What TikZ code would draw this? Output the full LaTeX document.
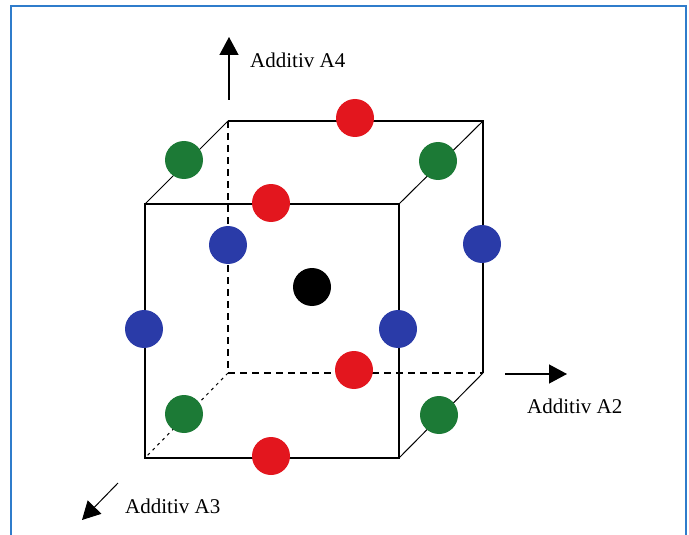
\documentclass[tikz,border=0pt]{standalone}
\usepackage{fontspec}
\setmainfont{Liberation Serif}
\usetikzlibrary{arrows.meta}
\definecolor{framecol}{HTML}{2F7CCB}
\definecolor{ballred}{HTML}{E3161E}
\definecolor{ballgreen}{HTML}{1C7A36}
\definecolor{ballblue}{HTML}{2A3BA8}
\begin{document}
\begin{tikzpicture}[x=1pt,y=-1pt,
  frame/.style={line width=2pt,framecol},
  edge/.style={line width=1.3pt,black},
  slant/.style={line width=1pt,black},
  hidden/.style={edge,dash pattern=on 7pt off 5pt},
  hiddenslant/.style={line width=1pt,black,dash pattern=on 3pt off 4pt},
  axis/.style={line width=1.3pt,-{Triangle[length=18pt,width=19pt]}},
  lbl/.style={font=\fontsize{21}{24}\selectfont,anchor=base west,inner sep=0pt},
  ball/.style={circle,minimum size=38pt,inner sep=0pt}]
\useasboundingbox (0,0) rectangle (689,535);
% outer frame, open at the bottom
\draw[frame] (11,536) -- (11,6) -- (686,6) -- (686,536);

% cube corners: front face f*, back face b*
\coordinate (f1) at (145,204);
\coordinate (f2) at (399,204);
\coordinate (f3) at (399,458);
\coordinate (f4) at (145,458);
\coordinate (b1) at (228,121);
\coordinate (b2) at (483,121);
\coordinate (b3) at (483,373);
\coordinate (b4) at (228,373);

% hidden edges
\draw[hidden] (b1) -- (b4);
\draw[hidden] (b4) -- (b3);
\draw[hiddenslant] (b4) -- (f4);
% visible edges
\draw[edge] (f1) -- (f2) -- (f3) -- (f4) -- cycle;
\draw[edge] (b1) -- (b2) -- (b3);
\draw[slant] (f1) -- (b1);
\draw[slant] (f2) -- (b2);
\draw[slant] (f3) -- (b3);

% axes
\coordinate (a4s) at (229,100);
\coordinate (a4e) at (229,37);
\coordinate (a2s) at (505,374);
\coordinate (a2e) at (567,374);
\coordinate (a3s) at (118,483);
\coordinate (a3e) at (82,520);
\draw[axis] (a4s) -- (a4e);
\draw[axis] (a2s) -- (a2e);
\draw[axis,line width=1pt] (a3s) -- (a3e);

\node[lbl] (l4) at (250,68) {Additiv A4};
\node[lbl] (l2) at (527,413) {Additiv A2};
\node[lbl] (l3) at (125,513) {Additiv A3};

% design points
\node[ball,fill=ballred]   (r1) at (355,118) {};
\node[ball,fill=ballgreen] (g1) at (184,160) {};
\node[ball,fill=ballgreen] (g2) at (438,161) {};
\node[ball,fill=ballred]   (r2) at (271,203) {};
\node[ball,fill=ballblue]  (u1) at (228,245) {};
\node[ball,fill=ballblue]  (u2) at (482,244) {};
\node[ball,fill=black]     (c0) at (312,287) {};
\node[ball,fill=ballblue]  (u3) at (144,329) {};
\node[ball,fill=ballblue]  (u4) at (398,329) {};
\node[ball,fill=ballred]   (r3) at (354,370) {};
\node[ball,fill=ballgreen] (g3) at (184,414) {};
\node[ball,fill=ballgreen] (g4) at (439,415) {};
\node[ball,fill=ballred]   (r4) at (271,456) {};
\end{tikzpicture}
\end{document}
